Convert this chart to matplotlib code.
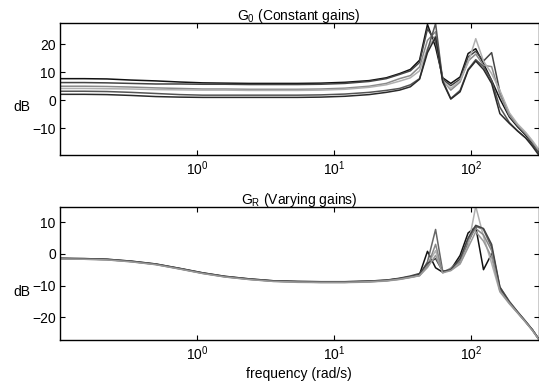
#!/usr/bin/env python3

import matplotlib
matplotlib.use('Agg')
import matplotlib.pyplot as plt
import numpy as np

# Frequency grid (rad/s)
freq = [0.1, 0.15, 0.22, 0.33, 0.5, 0.75, 1.1, 1.6, 2.4, 3.6, 5.4, 8, 12, 18, 24,
        30, 36, 42, 48, 55, 62, 71, 83, 95, 108, 123, 141, 162, 190, 218, 250, 280, 310]

# G0 (constant gains), magnitude in dB
g0_a = [7.7, 7.7, 7.6, 7.2, 6.9, 6.5, 6.2, 6.1, 6.0, 6.0, 6.0, 6.1, 6.4, 7.0, 8.0,
        9.5, 11.0, 14.3, 27.1, 19.0, 8.0, 6.0, 8.3, 16.7, 18.4, 13.1, 7.1, 0.5, -6.0, -9.5, -12.5, -15.5, -18.5]
g0_b = [6.3, 6.3, 6.2, 6.0, 5.8, 5.8, 5.7, 5.7, 5.6, 5.6, 5.6, 5.7, 6.0, 6.7, 7.7,
        9.2, 10.5, 13.5, 25.5, 21.0, 7.5, 5.2, 7.5, 15.5, 17.5, 14.0, 17.0, 3.0, -5.0, -9.0, -12.0, -15.0, -18.0]
g0_c = [5.0, 5.0, 4.9, 4.7, 4.4, 4.2, 4.0, 4.0, 3.9, 3.9, 3.9, 4.0, 4.3, 5.0, 6.0,
        7.7, 8.8, 11.9, 21.4, 24.5, 7.2, 3.6, 6.5, 14.0, 16.5, 12.5, 12.0, 2.0, -5.5, -9.0, -12.0, -15.0, -18.0]
g0_d = [4.2, 4.2, 4.1, 4.0, 3.8, 3.7, 3.6, 3.6, 3.5, 3.5, 3.5, 3.6, 3.9, 4.6, 5.5,
        6.8, 8.0, 10.5, 18.5, 23.0, 6.8, 4.2, 7.0, 13.5, 22.0, 14.0, 9.5, 3.5, -4.5, -8.5, -11.5, -14.5, -17.5]
g0_e = [3.2, 3.2, 3.1, 2.8, 2.4, 2.0, 1.8, 1.8, 1.8, 1.8, 1.8, 1.9, 2.2, 2.8, 3.5,
        4.2, 5.5, 7.7, 17.9, 27.4, 7.0, 0.6, 3.5, 11.0, 14.5, 12.0, 7.0, -2.5, -8.0, -11.0, -13.5, -16.0, -19.0]
g0_f = [2.1, 2.1, 2.0, 1.7, 1.3, 1.1, 1.0, 1.0, 1.0, 1.0, 1.0, 1.1, 1.4, 2.0, 2.8,
        3.6, 4.8, 7.5, 17.0, 22.6, 6.5, 0.4, 3.0, 10.7, 14.0, 11.0, 6.0, -4.8, -8.3, -11.0, -13.5, -16.5, -19.5]

# GR (varying gains), magnitude in dB
gr_a = [-1.5, -1.6, -1.8, -2.4, -3.3, -4.7, -6.1, -7.2, -8.0, -8.6, -8.8, -8.9, -8.9, -8.7, -8.4,
        -7.8, -7.2, -6.5, 0.8, -4.4, -5.8, -5.0, -0.5, 6.6, 8.5, -5.0, 0.0, -11.0, -15.5, -18.5, -21.5, -24.0, -26.8]
gr_b = [-1.4, -1.5, -1.7, -2.3, -3.2, -4.6, -6.0, -7.1, -7.9, -8.5, -8.7, -8.8, -8.8, -8.6, -8.3,
        -7.9, -7.3, -6.8, -2.5, 7.7, -5.5, -5.2, -2.5, 3.5, 8.7, 7.7, 2.0, -10.5, -15.0, -18.3, -21.3, -24.0, -26.8]
gr_c = [-1.6, -1.7, -1.9, -2.5, -3.4, -4.8, -6.2, -7.3, -8.1, -8.7, -9.0, -9.1, -9.1, -8.9, -8.6,
        -8.1, -7.5, -6.9, -3.5, 1.0, -5.8, -4.8, -3.0, 2.5, 15.0, 5.5, -3.0, -12.0, -15.8, -18.7, -21.6, -24.2, -26.9]
gr_d = [-1.5, -1.6, -1.8, -2.4, -3.3, -4.7, -6.1, -7.2, -8.0, -8.6, -8.9, -9.0, -9.0, -8.8, -8.5,
        -8.0, -7.4, -6.8, -4.0, 3.0, -6.0, -4.5, -2.0, 4.5, 8.0, 6.0, 1.0, -11.5, -15.5, -18.5, -21.5, -24.1, -26.8]
gr_e = [-1.4, -1.5, -1.7, -2.3, -3.2, -4.6, -6.0, -7.1, -7.9, -8.5, -8.7, -8.8, -8.8, -8.6, -8.3,
        -7.7, -7.0, -6.2, -3.0, -1.5, -5.5, -5.0, -1.5, 5.0, 9.0, 8.0, 3.0, -10.5, -15.2, -18.3, -21.4, -24.0, -26.8]
gr_f = [-1.6, -1.7, -1.9, -2.5, -3.4, -4.8, -6.2, -7.3, -8.1, -8.7, -8.9, -9.0, -9.0, -8.8, -8.5,
        -8.0, -7.4, -6.9, -4.3, -0.5, -6.0, -5.3, -3.2, 2.0, 7.0, 4.0, -1.0, -11.8, -15.6, -18.6, -21.6, -24.2, -26.9]

top_curves = [g0_a, g0_b, g0_c, g0_d, g0_e, g0_f]
bot_curves = [gr_a, gr_b, gr_c, gr_d, gr_e, gr_f]
top_colors = ['#111111', '#444444', '#8a8a8a', '#b0b0b0', '#555555', '#2a2a2a']
bot_colors = ['#111111', '#666666', '#b0b0b0', '#888888', '#444444', '#999999']

FS = 10


def style_axes(ax, yticks, ylim):
    '''MATLAB-like box axes with inward ticks'''
    ax.set_xscale('log')
    ax.set_xlim(0.1, 310)
    ax.set_ylim(*ylim)
    ax.set_yticks(yticks)
    ax.set_xticks([1, 10, 100])
    ax.xaxis.set_minor_locator(matplotlib.ticker.NullLocator())
    ax.tick_params(direction='in', top=True, right=True, length=3.5, width=0.8,
                   labelsize=FS, pad=3)
    for s in ax.spines.values():
        s.set_linewidth(1.0)
    # Horizontal "dB" label left of the tick labels
    ax.text(-0.080, 0.36, 'dB', transform=ax.transAxes, ha='center', va='center', fontsize=FS)


def main():
    matplotlib.rcParams.update({
        'font.family': 'Liberation Sans',
        'mathtext.fontset': 'custom',
        'mathtext.rm': 'Liberation Sans',
        'mathtext.it': 'Liberation Sans:italic',
        'mathtext.bf': 'Liberation Sans:bold',
    })

    fig = plt.figure(figsize=(5.39, 3.83), dpi=100)
    ax1 = fig.add_axes([0.1113, 0.5953, 0.8878, 0.3446])
    ax2 = fig.add_axes([0.1113, 0.1123, 0.8878, 0.3473])

    for y, c in zip(top_curves, top_colors):
        ax1.plot(freq, y, color=c, lw=1.1)
    for y, c in zip(bot_curves, bot_colors):
        ax2.plot(freq, y, color=c, lw=1.1)

    style_axes(ax1, [-10, 0, 10, 20], (-19.6, 27.6))
    style_axes(ax2, [-20, -10, 0, 10], (-27.2, 14.8))

    ax1.set_title(r'G$_\mathregular{0}$ (Constant gains)', fontsize=FS, pad=2)
    ax2.set_title(r'G$_\mathregular{R}$ (Varying gains)', fontsize=FS, pad=2)
    ax2.set_xlabel('frequency (rad/s)', fontsize=FS, labelpad=3)

    fig.savefig('out.png', dpi=100)


if __name__ == '__main__':
    main()
